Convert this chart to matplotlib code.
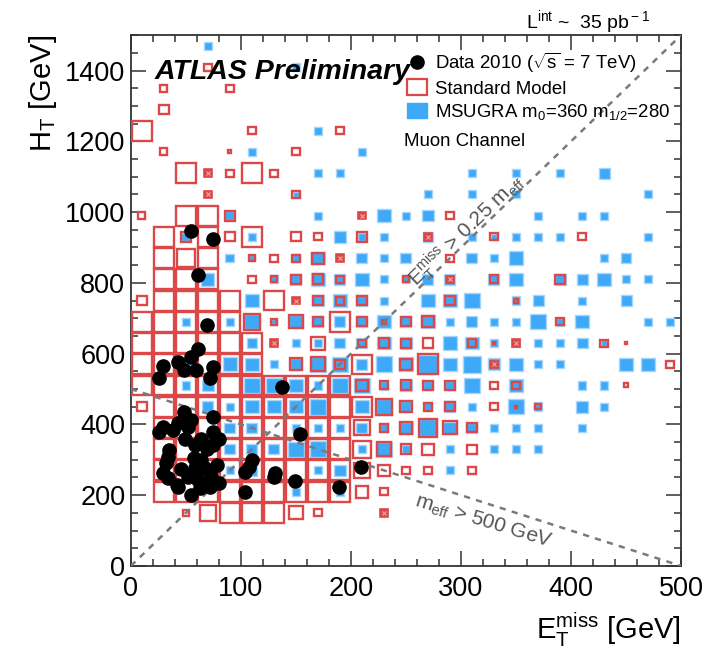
import matplotlib
matplotlib.use("Agg")
import matplotlib.pyplot as plt
from matplotlib.patches import Rectangle, Patch
from matplotlib.lines import Line2D
from matplotlib.ticker import MultipleLocator

plt.rcParams['font.family'] = ['Liberation Sans', 'DejaVu Sans']
plt.rcParams['mathtext.fontset'] = 'custom'
plt.rcParams['mathtext.rm'] = 'Liberation Sans'
plt.rcParams['mathtext.it'] = 'Liberation Sans:italic'
plt.rcParams['mathtext.bf'] = 'Liberation Sans:bold'

# bins: 20 GeV in ETmiss, 60 GeV in HT; entries are (ET centre, HT centre, relative box size)
msugra_bins = [
    (70, 1470, 0.38), (150, 1410, 0.38), (170, 1230, 0.38), (110, 1170, 0.4), (210, 1170, 0.4),
    (170, 1110, 0.38), (190, 1110, 0.38), (310, 1110, 0.38), (350, 1110, 0.38), (390, 1110, 0.38), (430, 1110, 0.5),
    (150, 1050, 0.25), (270, 1050, 0.38), (310, 1050, 0.38), (350, 1050, 0.38), (470, 1050, 0.38),
    (90, 990, 0.4), (170, 990, 0.38), (230, 990, 0.6), (250, 990, 0.38), (270, 990, 0.55), (370, 990, 0.38),
    (410, 990, 0.38), (430, 990, 0.38),
    (50, 930, 0.4), (110, 930, 0.4), (190, 930, 0.55), (210, 930, 0.4), (230, 930, 0.38), (270, 930, 0.45),
    (310, 930, 0.38), (330, 930, 0.3), (350, 930, 0.38), (370, 930, 0.38), (390, 930, 0.38), (470, 930, 0.38),
    (90, 870, 0.4), (110, 870, 0.3), (150, 870, 0.35), (170, 870, 0.6), (210, 870, 0.5), (230, 870, 0.38),
    (250, 870, 0.5), (310, 870, 0.5), (330, 870, 0.38), (350, 870, 0.65), (430, 870, 0.38), (450, 870, 0.45),
    (70, 810, 0.6), (130, 810, 0.38), (150, 810, 0.5), (170, 810, 0.6), (190, 810, 0.5), (210, 810, 0.6),
    (230, 810, 0.38), (250, 810, 0.38), (270, 810, 0.5), (290, 810, 0.5), (330, 810, 0.5), (350, 810, 0.6),
    (390, 810, 0.5), (410, 810, 0.5), (430, 810, 0.6), (450, 810, 0.38), (470, 810, 0.38),
    (110, 750, 0.6), (170, 750, 0.55), (190, 750, 0.6), (210, 750, 0.5), (230, 750, 0.38), (270, 750, 0.6),
    (290, 750, 0.6), (310, 750, 0.7), (350, 750, 0.4), (370, 750, 0.5), (410, 750, 0.38), (450, 750, 0.5),
    (50, 690, 0.38), (90, 690, 0.38), (110, 690, 0.7), (130, 690, 0.3), (150, 690, 0.6), (170, 690, 0.5),
    (190, 690, 0.5), (210, 690, 0.5), (230, 690, 0.6), (250, 690, 0.5), (270, 690, 0.6), (290, 690, 0.38),
    (310, 690, 0.5), (330, 690, 0.38), (350, 690, 0.38), (370, 690, 0.7), (390, 690, 0.38), (410, 690, 0.6),
    (470, 690, 0.38), (490, 690, 0.38),
    (110, 630, 0.45), (150, 630, 0.38), (170, 630, 0.4), (190, 630, 0.5), (210, 630, 0.5), (230, 630, 0.6),
    (250, 630, 0.55), (290, 630, 0.65), (310, 630, 0.6), (330, 630, 0.38), (350, 630, 0.4), (370, 630, 0.38),
    (390, 630, 0.38), (410, 630, 0.5), (430, 630, 0.3),
    (50, 570, 0.38), (90, 570, 0.65), (110, 570, 0.6), (130, 570, 0.38), (150, 570, 0.55), (170, 570, 0.7),
    (190, 570, 0.7), (210, 570, 0.5), (230, 570, 0.75), (250, 570, 0.65), (270, 570, 0.9), (290, 570, 0.6),
    (310, 570, 0.8), (330, 570, 0.55), (350, 570, 0.6), (370, 570, 0.38), (390, 570, 0.38), (450, 570, 0.6),
    (470, 570, 0.6),
    (50, 510, 0.38), (70, 510, 0.55), (110, 510, 0.7), (130, 510, 0.7), (150, 510, 0.65), (170, 510, 0.4),
    (190, 510, 0.7), (210, 510, 0.7), (230, 510, 0.4), (250, 510, 0.55), (270, 510, 0.45), (290, 510, 0.45),
    (310, 510, 0.7), (350, 510, 0.6), (410, 510, 0.38), (430, 510, 0.38),
    (70, 450, 0.5), (90, 450, 0.38), (110, 450, 0.6), (130, 450, 0.6), (150, 450, 0.6), (170, 450, 0.75),
    (210, 450, 0.6), (230, 450, 0.75), (250, 450, 0.5), (270, 450, 0.4), (290, 450, 0.5), (310, 450, 0.38),
    (350, 450, 0.7), (370, 450, 0.4), (410, 450, 0.55), (430, 450, 0.38),
    (90, 390, 0.5), (110, 390, 0.5), (150, 390, 0.38), (170, 390, 0.38), (190, 390, 0.38), (210, 390, 0.5),
    (230, 390, 0.38), (250, 390, 0.6), (270, 390, 0.8), (290, 390, 0.6), (310, 390, 0.5), (330, 390, 0.38),
    (350, 390, 0.38), (370, 390, 0.38), (410, 390, 0.38),
    (90, 330, 0.5), (110, 330, 0.5), (130, 330, 0.5), (150, 330, 0.7), (170, 330, 0.75), (210, 330, 0.38),
    (230, 330, 0.7), (250, 330, 0.4), (290, 330, 0.38), (330, 330, 0.38), (350, 330, 0.38), (370, 330, 0.38),
    (90, 270, 0.38), (110, 270, 0.5), (170, 270, 0.38), (190, 270, 0.55), (290, 270, 0.38),
    (150, 210, 0.38), (190, 210, 0.38),
]

sm_bins = [
    (70, 1410, 0.35), (30, 1350, 0.35), (90, 1350, 0.35), (30, 1290, 0.5),
    (10, 1230, 1.0), (110, 1230, 0.35), (190, 1230, 0.35),
    (30, 1170, 0.35), (90, 1170, 0.15), (150, 1170, 0.35),
    (50, 1110, 1.0), (90, 1110, 0.35), (110, 1110, 1.0), (130, 1110, 0.35),
    (150, 1050, 0.35),
    (10, 990, 0.35), (50, 990, 1.0), (70, 990, 1.0), (90, 990, 0.5), (290, 990, 0.35),
    (30, 930, 1.0), (50, 930, 0.5), (70, 930, 1.0), (90, 930, 0.45), (110, 930, 1.0), (150, 930, 0.45),
    (170, 930, 0.35), (210, 930, 0.5), (330, 930, 0.35), (410, 930, 0.35),
    (30, 870, 1.0), (50, 870, 0.9), (70, 870, 1.0), (110, 870, 0.3), (130, 870, 0.35), (150, 870, 0.35),
    (170, 870, 0.55), (290, 870, 0.35),
    (30, 810, 1.0), (50, 810, 1.0), (70, 810, 1.0), (110, 810, 0.35), (130, 810, 0.3), (150, 810, 0.45),
    (170, 810, 0.5), (190, 810, 0.35), (250, 810, 0.3), (330, 810, 0.4), (390, 810, 0.45),
    (10, 750, 0.45), (30, 750, 1.0), (50, 750, 1.0), (70, 750, 1.0), (90, 750, 1.0), (130, 750, 0.95),
    (170, 750, 0.45), (190, 750, 0.4), (210, 750, 0.45), (290, 750, 0.45), (350, 750, 0.2),
    (10, 690, 1.0), (30, 690, 1.0), (50, 690, 1.0), (70, 690, 1.0), (90, 690, 1.0), (110, 690, 0.8),
    (130, 690, 0.3), (150, 690, 0.65), (170, 690, 0.45), (190, 690, 1.0), (210, 690, 0.45), (230, 690, 0.2),
    (250, 690, 0.45), (270, 690, 0.55), (390, 690, 0.35),
    (10, 630, 1.0), (30, 630, 1.0), (50, 630, 1.0), (70, 630, 1.0), (90, 630, 1.0), (110, 630, 1.0),
    (170, 630, 0.65), (210, 630, 0.35), (230, 630, 0.5), (250, 630, 0.45), (270, 630, 0.5), (310, 630, 0.4),
    (330, 630, 0.1), (430, 630, 0.35), (450, 630, 0.1),
    (10, 570, 1.0), (30, 570, 1.0), (50, 570, 1.0), (70, 570, 1.0), (90, 570, 1.0), (110, 570, 1.0),
    (150, 570, 0.6), (170, 570, 0.7), (190, 570, 0.45), (210, 570, 0.95), (250, 570, 0.55), (270, 570, 1.0),
    (490, 570, 0.35),
    (10, 510, 1.0), (30, 510, 1.0), (50, 510, 1.0), (70, 510, 1.0), (90, 510, 1.0), (110, 510, 1.0),
    (130, 510, 1.0), (150, 510, 1.0), (170, 510, 1.0), (190, 510, 1.0), (210, 510, 0.55), (230, 510, 0.4),
    (250, 510, 0.5), (270, 510, 0.45), (290, 510, 0.45), (330, 510, 0.35), (350, 510, 0.35), (450, 510, 0.2),
    (10, 450, 0.45), (30, 450, 1.0), (50, 450, 1.0), (70, 450, 1.0), (90, 450, 1.0), (110, 450, 1.0),
    (130, 450, 1.0), (150, 450, 1.0), (170, 450, 1.0), (190, 450, 1.0), (210, 450, 1.0), (230, 450, 0.8),
    (250, 450, 0.55), (270, 450, 0.4), (290, 450, 0.45), (330, 450, 0.35), (350, 450, 0.08), (370, 450, 0.25),
    (30, 390, 1.0), (50, 390, 1.0), (70, 390, 1.0), (90, 390, 1.0), (110, 390, 1.0), (130, 390, 1.0),
    (150, 390, 1.0), (170, 390, 1.0), (190, 390, 1.0), (210, 390, 0.75), (230, 390, 0.4), (250, 390, 0.6),
    (270, 390, 0.9), (290, 390, 0.65), (310, 390, 0.45),
    (30, 330, 1.0), (50, 330, 1.0), (70, 330, 1.0), (90, 330, 1.0), (110, 330, 1.0), (130, 330, 1.0),
    (150, 330, 1.0), (170, 330, 1.0), (190, 330, 1.0), (210, 330, 0.85), (230, 330, 0.7), (250, 330, 0.5),
    (270, 330, 0.55), (310, 330, 0.45),
    (30, 270, 1.0), (50, 270, 1.0), (70, 270, 1.0), (90, 270, 1.0), (110, 270, 1.0), (130, 270, 1.0),
    (150, 270, 1.0), (170, 270, 1.0), (190, 270, 1.0), (210, 270, 0.75), (230, 270, 0.55), (250, 270, 0.35),
    (270, 270, 0.35), (310, 270, 0.35),
    (30, 210, 1.0), (50, 210, 1.0), (70, 210, 1.0), (90, 210, 1.0), (110, 210, 1.0), (130, 210, 1.0),
    (150, 210, 1.0), (170, 210, 1.0), (190, 210, 1.0), (210, 210, 0.6), (230, 210, 0.35),
    (50, 150, 0.3), (70, 150, 0.8), (90, 150, 1.0), (110, 150, 1.0), (130, 150, 1.0), (150, 150, 0.65),
    (170, 150, 0.35),
]

# small SM boxes drawn filled (crossed) in the original
sm_marked_bins = [
    (70, 1110, 0.35), (70, 1050, 0.35), (210, 990, 0.35), (270, 930, 0.35), (190, 870, 0.35),
    (290, 810, 0.35), (150, 750, 0.35), (130, 630, 0.35), (350, 630, 0.38), (330, 570, 0.35),
    (230, 150, 0.35),
]

data_et = [55, 75, 61, 69, 61, 55, 29, 43, 48, 59, 75, 26, 72, 137, 48, 75, 55, 43, 29, 38,
           52, 26, 154, 75, 49, 64, 80, 58, 69, 75, 35, 34, 57, 64, 32, 46, 58, 67, 78, 110,
           107, 104, 29, 52, 72, 73, 131, 130, 34, 61, 80, 149, 42, 72, 63, 104, 55, 43, 209, 189]
data_ht = [948, 925, 821, 680, 612, 591, 565, 575, 553, 553, 562, 532, 530, 506, 435, 421, 412, 403, 393, 384,
           393, 379, 372, 379, 360, 360, 360, 341, 330, 341, 327, 308, 304, 299, 290, 273, 276, 276, 285, 299,
           280, 266, 262, 252, 266, 252, 262, 250, 248, 243, 233, 241, 229, 224, 219, 210, 200, 224, 280, 222]

red = '#dc4848'
blue = '#3ea9f6'
bw, bh = 20, 60

fig = plt.figure(figsize=(7.23, 6.52), dpi=100)
ax = fig.add_axes([0.181, 0.132, 0.761, 0.814])

for et, ht, s in msugra_bins:
    ax.add_patch(Rectangle((et - s * bw / 2, ht - s * bh / 2), s * bw, s * bh,
                           facecolor=blue, edgecolor='#a6d6fb', lw=1.0, zorder=2))
for et, ht, s in sm_bins:
    s = s * 0.94
    ax.add_patch(Rectangle((et - s * bw / 2, ht - s * bh / 2), s * bw, s * bh,
                           fill=False, edgecolor=red, lw=1.7, zorder=3))
for et, ht, s in sm_marked_bins:
    ax.add_patch(Rectangle((et - s * bw / 2, ht - s * bh / 2), s * bw, s * bh,
                           facecolor=red, edgecolor=red, lw=1.2, zorder=3))
    ax.plot(et, ht, marker='x', color='#f2a9a9', ms=2.5, mew=0.8, zorder=3.5)

# cut lines
ax.plot([0, 500], [0, 1500], ls=(0, (2.5, 2.5)), color='#7a7a7a', lw=1.8, zorder=4)
ax.plot([0, 500], [500, 0], ls=(0, (2.5, 2.5)), color='#7a7a7a', lw=1.8, zorder=4)
ax.text(305, 950, r'E$_{\rm T}^{\rm miss}$ > 0.25 m$_{\rm eff}$', rotation=44, ha='center', va='center',
        fontsize=15, color='#555555', zorder=4.5)
ax.text(320, 125, r'm$_{\rm eff}$ > 500 GeV', rotation=-17, ha='center', va='center',
        fontsize=15, color='#555555', zorder=4.5)

ax.plot(data_et, data_ht, 'o', color='black', ms=9.5, zorder=5, ls='none')

ax.set_xlim(0, 500)
ax.set_ylim(0, 1500)
ax.xaxis.set_major_locator(MultipleLocator(100))
ax.xaxis.set_minor_locator(MultipleLocator(20))
ax.yaxis.set_major_locator(MultipleLocator(200))
ax.yaxis.set_minor_locator(MultipleLocator(50))
ax.tick_params(which='both', direction='in', top=True, right=True, labelsize=19.5, width=1.1, color='#333333')
ax.tick_params(which='major', length=11)
ax.tick_params(which='minor', length=5)
ax.tick_params(axis='x', pad=7)
ax.tick_params(axis='y', pad=4)
for sp in ax.spines.values():
    sp.set_linewidth(1.3)
    sp.set_color('#333333')

ax.set_xlabel(r'E$_{\rm T}^{\rm miss}$ [GeV]', fontsize=21, loc='right', labelpad=6)
ax.set_ylabel(r'H$_{\rm T}$ [GeV]', fontsize=21, loc='top', labelpad=4)

ax.text(0.044, 0.93, 'ATLAS Preliminary', transform=ax.transAxes, fontsize=20.5,
        fontweight='bold', style='italic', va='center', zorder=6)
handles = [
    Line2D([], [], marker='o', color='black', ls='none', ms=9.5),
    Patch(facecolor='white', edgecolor=red, lw=1.6),
    Patch(facecolor=blue, edgecolor=blue),
]
labels = [r'Data 2010 ($\sqrt{\rm s}$ = 7 TeV)', 'Standard Model', r'MSUGRA m$_{\rm 0}$=360 m$_{\rm 1/2}$=280']
ax.legend(handles, labels, loc='upper left', bbox_to_anchor=(0.488, 0.985), frameon=False,
          fontsize=13.4, handlelength=1.1, handleheight=0.9, handletextpad=0.4, labelspacing=0.25,
          borderaxespad=0)
ax.text(0.497, 0.80, 'Muon Channel', transform=ax.transAxes, fontsize=13.4, va='center', zorder=6)
fig.text(0.728, 0.966, r'L$^{\rm int}$ ~  35 pb$^{\rm -1}$', fontsize=14, va='center')

fig.savefig('out.png', dpi=100, facecolor='white')
